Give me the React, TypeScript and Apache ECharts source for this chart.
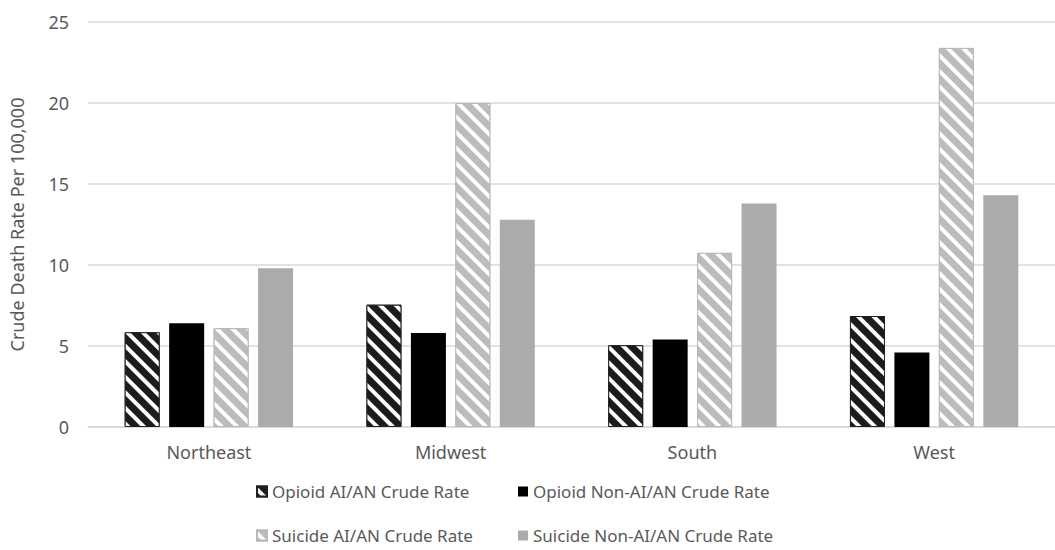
import React, { useEffect, useRef } from "react";
import * as echarts from "echarts";

const regions = ["Northeast", "Midwest", "South", "West"];
const opioidAIAN = [5.85, 7.55, 5.05, 6.85];
const opioidNon = [6.4, 5.8, 5.4, 4.6];
const suicideAIAN = [6.1, 20.0, 10.75, 23.4];
const suicideNon = [9.8, 12.8, 13.8, 14.3];
const seriesNames = [
  "Opioid AI/AN Crude Rate",
  "Opioid Non-AI/AN Crude Rate",
  "Suicide AI/AN Crude Rate",
  "Suicide Non-AI/AN Crude Rate",
];
const yTicks = { min: 0, max: 25, interval: 5 };

const FONT = "Noto Sans";
const TEXT = "#595959";
const GRID = "#d9d9d9";

const stripeDecal = {
  symbol: "rect",
  symbolSize: 1,
  dashArrayX: [1, 0],
  dashArrayY: [3.5, 6.5],
  rotation: Math.PI / 4,
  color: "#ffffff",
};

export default function App() {
  const ref = useRef<HTMLDivElement>(null);
  useEffect(() => {
    if (!ref.current) return;
    const chart = echarts.init(ref.current, undefined, { renderer: "svg" });
    const legendPos = [
      { left: 256, top: 483 },
      { left: 518, top: 483 },
      { left: 256, top: 527 },
      { left: 518, top: 527 },
    ];
    chart.setOption({
      animation: false,
      backgroundColor: "#ffffff",
      textStyle: { fontFamily: FONT },
      grid: { left: 81, right: -3, top: 22, bottom: 123 },
      legend: seriesNames.map((n, i) => ({
        data: [n],
        left: legendPos[i].left,
        top: legendPos[i].top,
        padding: 0,
        itemWidth: 10,
        itemHeight: 10,
        itemGap: 0,
        icon: "rect",
        textStyle: { fontFamily: FONT, fontSize: 17, color: TEXT },
        selectedMode: false,
      })),
      xAxis: {
        type: "category",
        data: regions,
        axisLine: { show: true, lineStyle: { color: GRID, width: 1.5 } },
        axisTick: { show: false },
        axisLabel: { fontFamily: FONT, fontSize: 18, color: TEXT, margin: 16 },
      },
      yAxis: {
        type: "value",
        min: yTicks.min,
        max: yTicks.max,
        interval: yTicks.interval,
        name: "Crude Death Rate Per 100,000",
        nameLocation: "middle",
        nameGap: 62,
        nameTextStyle: { fontFamily: FONT, fontSize: 18, color: TEXT },
        axisLine: { show: false },
        axisTick: { show: false },
        axisLabel: { fontFamily: FONT, fontSize: 18, color: TEXT, margin: 19 },
        splitLine: { lineStyle: { color: GRID, width: 1.5 } },
      },
      series: [
        {
          name: seriesNames[0],
          type: "bar",
          data: opioidAIAN,
          barWidth: 35,
          barGap: "27%",
          itemStyle: { color: "#1e1b1c", borderColor: "#231f20", borderWidth: 1, decal: stripeDecal },
        },
        {
          name: seriesNames[1],
          type: "bar",
          data: opioidNon,
          barWidth: 35,
          barGap: "27%",
          itemStyle: { color: "#000000" },
        },
        {
          name: seriesNames[2],
          type: "bar",
          data: suicideAIAN,
          barWidth: 35,
          barGap: "27%",
          itemStyle: { color: "#bcbcbc", borderColor: "#b8b8b8", borderWidth: 1, decal: stripeDecal },
        },
        {
          name: seriesNames[3],
          type: "bar",
          data: suicideNon,
          barWidth: 35,
          barGap: "27%",
          itemStyle: { color: "#ababab" },
        },
      ],
    });
    return () => chart.dispose();
  }, []);
  return (
    <div
      ref={ref}
      style={{ position: "absolute", left: 0, top: 0, width: 1055, height: 550 }}
    />
  );
}
